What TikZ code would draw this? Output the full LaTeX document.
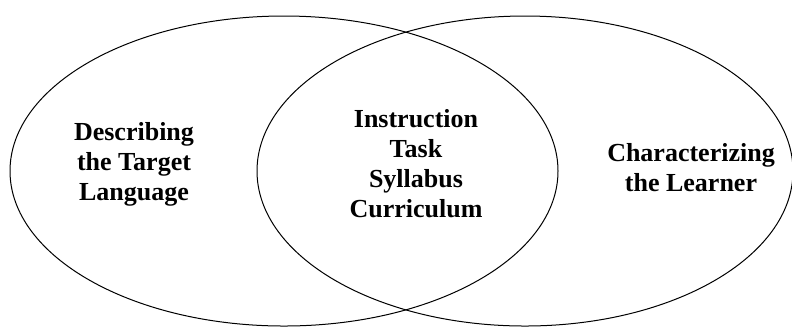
\documentclass[tikz,border=0pt]{standalone}
\usepackage{fontspec}
\setmainfont{Liberation Serif}
\begin{document}
\begin{tikzpicture}[x=0.5pt,y=-0.5pt,
  label/.style={align=center,font=\fontsize{13}{15}\selectfont\bfseries}]
\useasboundingbox (0,0) rectangle (792,329);

\draw[line width=0.5pt] (284,171) ellipse [x radius=274,y radius=155];
\draw[line width=0.5pt] (525,171) ellipse [x radius=268,y radius=155];

\node[label] (target) at (134,164) {Describing\\the Target\\Language};
\node[label] (core) at (416,164) {Instruction\\Task\\Syllabus\\Curriculum};
\node[label] (learner) at (691,168) {Characterizing\\the Learner};
\end{tikzpicture}
\end{document}
